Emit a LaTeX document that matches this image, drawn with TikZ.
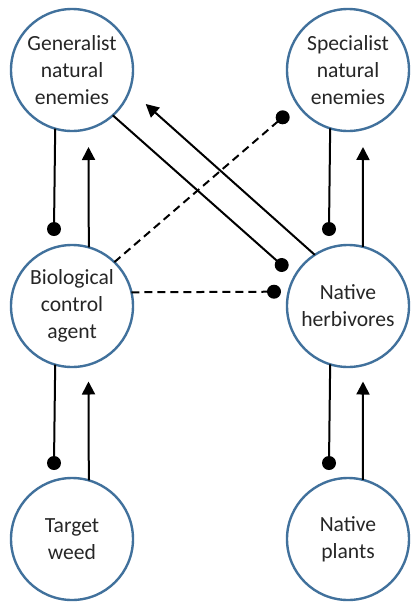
\documentclass[tikz,border=0pt]{standalone}
\usepackage{fontspec}
\setmainfont{Carlito}
\usetikzlibrary{arrows.meta}
\definecolor{circ}{RGB}{65,113,156}
\definecolor{txt}{RGB}{38,38,38}
\begin{document}
\begin{tikzpicture}[x=1pt,y=-1pt,
  ent/.style={circle,draw=circ,line width=2.4pt,minimum size=122pt,inner sep=0pt,outer sep=0pt,align=center,font=\fontsize{21.6}{27}\selectfont,text=txt},
  conn/.style={line width=2pt,black},
  arr/.style={conn,-{Triangle[length=13pt,width=13pt]}},
  dsh/.style={conn,dash pattern=on 8pt off 5pt},
  dotc/.style={fill=black}
]
\useasboundingbox (0,0) rectangle (412,603);
\node[ent] (gen) at (72,70) {Generalist\\natural\\enemies};
\node[ent] (spec) at (348,70) {Specialist\\natural\\enemies};
\node[ent] (bio) at (72,306) {Biological\\control\\agent};
\node[ent] (herb) at (348,306) {Native\\herbivores};
\node[ent] (weed) at (72,539) {Target\\weed};
\node[ent] (plants) at (348,539) {Native\\plants};

\coordinate (d1) at (54,229);
\coordinate (t1) at (88.5,147);
\coordinate (d2) at (329,229);
\coordinate (t2) at (363,147);
\coordinate (d3) at (54,463);
\coordinate (t3) at (88.5,381.5);
\coordinate (d4) at (329,463);
\coordinate (t4) at (363,381.5);
\coordinate (d5) at (281.7,265);
\coordinate (t5) at (145.7,104);
\coordinate (d6) at (282.7,117.3);
\coordinate (d7) at (274,291.7);

\draw[conn] (gen.-106.9) -- (d1);
\draw[arr] (bio.74.6) -- (t1);
\draw[conn] (spec.-107.8) -- (d2);
\draw[arr] (herb.76) -- (t2);
\draw[conn] (bio.-106.9) -- (d3);
\draw[arr] (weed.74.6) -- (t3);
\draw[conn] (herb.-107.8) -- (d4);
\draw[arr] (plants.76) -- (t4);
\draw[conn] (gen.-48.9) -- (d5);
\draw[arr] (herb.123.4) -- (t5);
\draw[dsh] (bio.46.5) -- (d6);
\draw[dsh] (bio.13.3) -- (d7);
\foreach \d in {d1,d2,d3,d4,d5,d6,d7} \fill[dotc] (\d) circle[radius=7pt];
\end{tikzpicture}
\end{document}
